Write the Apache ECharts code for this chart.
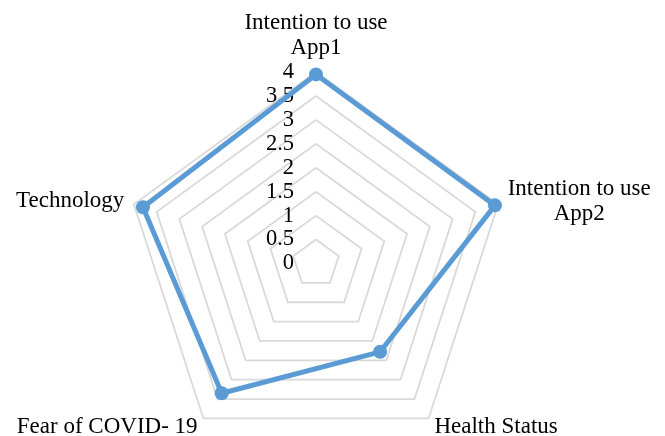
<!DOCTYPE html>
<html>
<head>
<meta charset="utf-8">
<style>
  html, body { margin: 0; padding: 0; background: #fff; }
  #chart { width: 665px; height: 436px; }
</style>
<script src="https://cdn.jsdelivr.net/npm/echarts@6/dist/echarts.min.js"></script>
</head>
<body>
<div id="chart"></div>
<script>
// radar axes and values
// (echarts lays indicators out counter-clockwise, so the list runs App1 -> Technology -> ... -> App2)
var indicators = ['Intention to use\nApp1', 'Technology', 'Fear of COVID- 19', 'Health Status', 'Intention to use\nApp2'];
var values = [3.95, 3.8, 3.35, 2.28, 3.93];
var axisMax = 4;

var myChart = echarts.init(document.getElementById('chart'));
myChart.setOption({
    animation: false,
    textStyle: { fontFamily: 'Liberation Serif' },
    radar: {
        center: [316, 263.5],
        radius: 191.5,
        startAngle: 90,
        shape: 'polygon',
        splitNumber: 8,
        nameGap: 10,
        axisName: {
            color: '#000',
            fontSize: 23,
            fontFamily: 'Liberation Serif',
            lineHeight: 25,
            formatter: function (name) {
                return name.split('\n').map(function (s) { return '{c|' + s + '}'; }).join('\n');
            },
            rich: {
                c: { align: 'center', fontSize: 23, fontFamily: 'Liberation Serif', color: '#000', lineHeight: 25 }
            }
        },
        axisLine: { show: false },
        axisTick: { show: false },
        axisLabel: { show: false },
        splitArea: { show: false },
        splitLine: { lineStyle: { color: '#d9d9d9', width: 1.8 } },
        indicator: indicators.map(function (n, i) {
            var ind = { name: n, min: 0, max: axisMax };
            if (i === 0) {
                // tick labels only on the top axis, like the original
                ind.axisLabel = {
                    show: true,
                    showMinLabel: true,
                    showMaxLabel: true,
                    margin: 22,
                    color: '#000',
                    fontSize: 22.5,
                    fontFamily: 'Liberation Serif'
                };
            }
            return ind;
        })
    },
    series: [
        {
            type: 'radar',
            symbol: 'circle',
            symbolSize: 14,
            lineStyle: { color: '#5b9bd5', width: 5 },
            itemStyle: { color: '#5b9bd5' },
            data: [{ value: values, name: 'Series1' }]
        }
    ]
});
</script>
</body>
</html>
